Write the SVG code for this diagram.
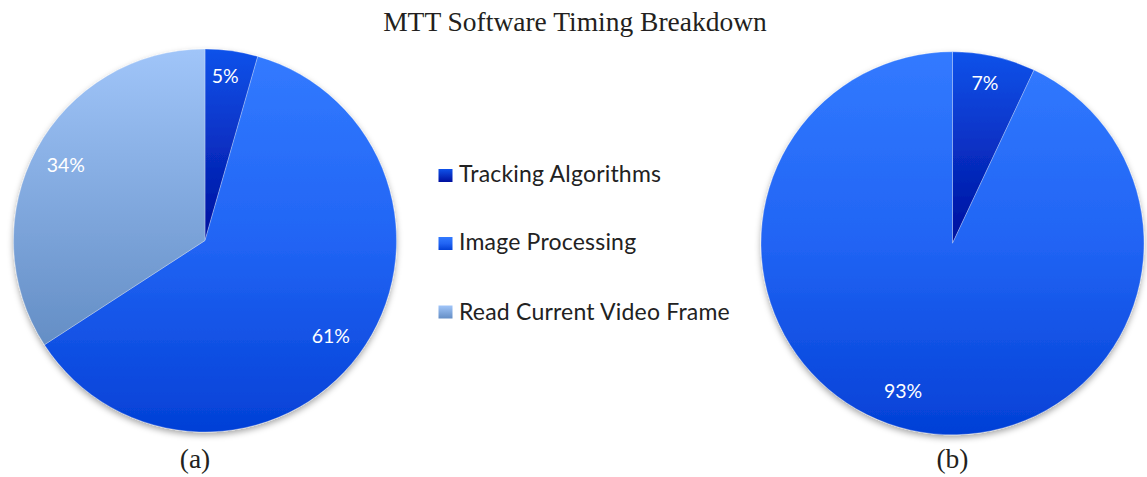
<svg xmlns="http://www.w3.org/2000/svg" width="1147" height="477" viewBox="0 0 1147 477">
<style>
.title{font-family:"Liberation Serif","Times New Roman",serif;font-size:27.5px;fill:#231f20;}
.cap{font-family:"Liberation Serif","Times New Roman",serif;font-size:27.5px;fill:#231f20;text-anchor:middle;}
.pct{font-family:Lato,"Open Sans",sans-serif;font-size:19.5px;fill:#ffffff;text-anchor:middle;}
.leg{font-family:Lato,"Open Sans",sans-serif;font-size:23px;letter-spacing:0.2px;fill:#222222;}
.sl{stroke:#ffffff;stroke-opacity:0.35;stroke-width:0.8;stroke-linejoin:round;}
</style>
<defs>
<linearGradient id="gTrack" x1="0" y1="0" x2="0" y2="1">
<stop offset="0" stop-color="#0f52ea"/>
<stop offset="1" stop-color="#000f9e"/>
</linearGradient>
<linearGradient id="gImg" x1="0" y1="0" x2="0" y2="1">
<stop offset="0" stop-color="#327aff"/>
<stop offset="0.5" stop-color="#2164f4"/>
<stop offset="1" stop-color="#0340d6"/>
</linearGradient>
<linearGradient id="gRead" x1="0" y1="0" x2="0" y2="1">
<stop offset="0" stop-color="#a0c5f9"/>
<stop offset="1" stop-color="#648ec5"/>
</linearGradient>
<filter id="sh" x="-10%" y="-10%" width="120%" height="125%">
<feDropShadow dx="0" dy="3" stdDeviation="3" flood-color="#000000" flood-opacity="0.35"/>
</filter>
</defs>
<rect width="1147" height="477" fill="#ffffff"/>
<text class="title" x="575" y="31" text-anchor="middle">MTT Software Timing Breakdown</text>

<g id="pie-a" filter="url(#sh)">
<path id="a-track" class="sl" fill="url(#gTrack)" d="M205,240.5 L205,49 A191.5,191.5 0 0 1 257.78,56.42 Z"/>
<path id="a-img" class="sl" fill="url(#gImg)" d="M205,240.5 L257.78,56.42 A191.5,191.5 0 1 1 44.4,344.8 Z"/>
<path id="a-read" class="sl" fill="url(#gRead)" d="M205,240.5 L44.4,344.8 A191.5,191.5 0 0 1 205,49 Z"/>
</g>
<g id="labels-a">
<text class="pct" x="225.3" y="83.3">5%</text>
<text class="pct" x="65.8" y="171.7">34%</text>
<text class="pct" x="330.8" y="343.3">61%</text>
</g>
<text id="cap-a" class="cap" x="195" y="468">(a)</text>

<g id="pie-b" filter="url(#sh)">
<path id="b-track" class="sl" fill="url(#gTrack)" d="M952.5,243.3 L952.5,51.8 A191.5,191.5 0 0 1 1034.04,70.03 Z"/>
<path id="b-img" class="sl" fill="url(#gImg)" d="M952.5,243.3 L1034.04,70.03 A191.5,191.5 0 1 1 952.5,51.8 Z"/>
</g>
<g id="labels-b">
<text class="pct" x="985" y="90">7%</text>
<text class="pct" x="903" y="397.7">93%</text>
</g>
<text id="cap-b" class="cap" x="952.5" y="468">(b)</text>

<g id="legend">
<g id="leg-track">
<rect x="438.5" y="169" width="14" height="13" fill="url(#gTrack)"/>
<text class="leg" x="459" y="181.7">Tracking Algorithms</text>
</g>
<g id="leg-img">
<rect x="438.5" y="237" width="14" height="13" fill="url(#gImg)"/>
<text class="leg" x="459" y="250">Image Processing</text>
</g>
<g id="leg-read">
<rect x="438.5" y="305.5" width="14" height="13" fill="url(#gRead)"/>
<text class="leg" x="459" y="320">Read Current Video Frame</text>
</g>
</g>
</svg>
